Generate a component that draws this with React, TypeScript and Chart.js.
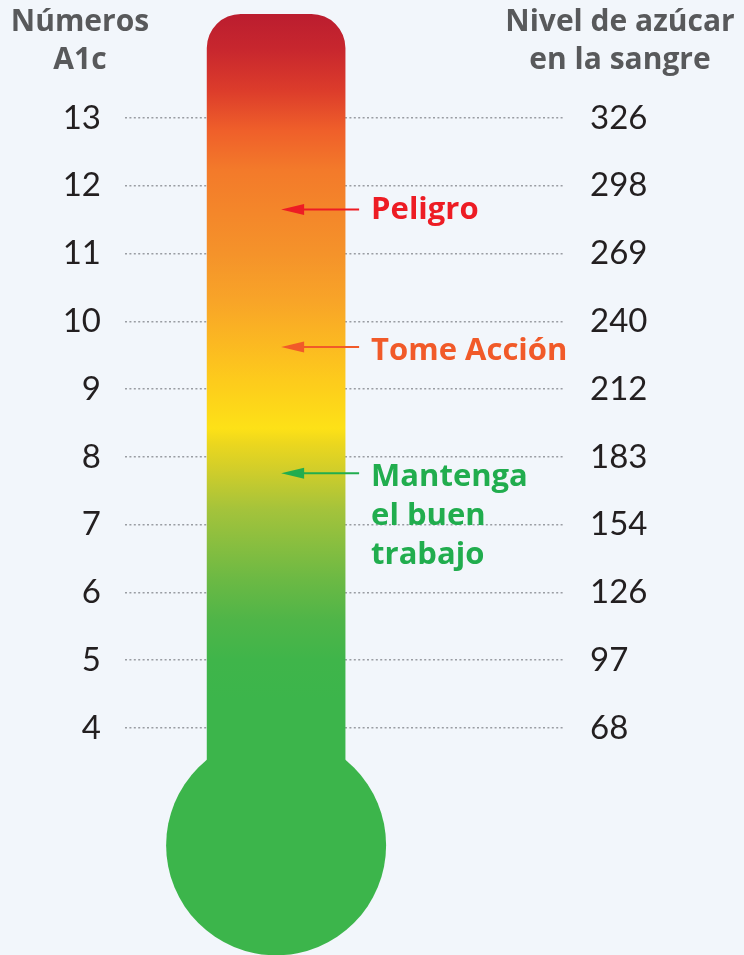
import React, { useEffect, useRef } from 'react';
import { Chart, registerables } from 'chart.js';

Chart.register(...registerables);

// ---- data ----
const a1cTicks = [4, 5, 6, 7, 8, 9, 10, 11, 12, 13];
const glucoseTicks = [68, 97, 126, 154, 183, 212, 240, 269, 298, 326];
const headerLeft = ['Números', 'A1c'];
const headerRight = ['Nivel de azúcar', 'en la sangre'];
const zoneLabels = [['Peligro'], ['Tome Acción'], ['Mantenga', 'el buen', 'trabajo']];
const zoneValues = [11.65, 9.62, 7.76];
const zoneColors = ['#ed1c24', '#f15a29', '#21ad4e'];
const tubeRange = [2.27, 14.53];
const bulbCenter = 2.27;
const yMin = 0.651;
const yMax = 14.741;

// gradient stops in A1c units (style)
const gradientStops: [number, string][] = [
  [14.53, '#bb1d2f'],
  [14.0, '#c8272e'],
  [13.41, '#dc3c2b'],
  [12.82, '#ef5f2a'],
  [12.23, '#f37a2a'],
  [10.98, '#f5932a'],
  [10.31, '#f8a428'],
  [9.72, '#fbb722'],
  [9.13, '#fdcb1c'],
  [8.42, '#fde117'],
  [8.2, '#ecd71e'],
  [7.78, '#cfcd2b'],
  [7.22, '#a4c33b'],
  [6.18, '#6bb944'],
  [5.59, '#4fb548'],
  [5.0, '#3fb54a'],
  [4.41, '#3cb54b'],
];

const BG = '#f2f6fb';
const GREEN = '#3cb54b';
const FONT = 'Lato, "Noto Sans", sans-serif';
const BOLD_FONT = '"Open Sans", "Noto Sans", sans-serif';
const TUBE_X = 0.345;

const bgPlugin = {
  id: 'bg',
  beforeDraw(chart: any) {
    const { ctx, width, height } = chart;
    ctx.save();
    ctx.fillStyle = BG;
    ctx.fillRect(0, 0, width, height);
    ctx.restore();
  },
};

const annotPlugin = {
  id: 'annot',
  afterDatasetsDraw(chart: any) {
    const { ctx } = chart;
    const y = chart.scales.y;
    const x = chart.scales.x;
    const cx = x.getPixelForValue(TUBE_X);
    ctx.save();
    // headers
    ctx.fillStyle = '#58595b';
    ctx.font = `bold 30px ${BOLD_FONT}`;
    ctx.textAlign = 'center';
    ctx.textBaseline = 'middle';
    headerLeft.forEach((t, i) => ctx.fillText(t, 80, 22 + i * 38));
    headerRight.forEach((t, i) => ctx.fillText(t, 620, 22 + i * 38));
    // zones
    zoneValues.forEach((v, i) => {
      const py = y.getPixelForValue(v);
      const tip = cx + 5;
      const tail = cx + 83;
      ctx.strokeStyle = zoneColors[i];
      ctx.fillStyle = zoneColors[i];
      ctx.lineWidth = 2;
      ctx.beginPath();
      ctx.moveTo(tail, py);
      ctx.lineTo(tip + 18, py);
      ctx.stroke();
      ctx.beginPath();
      ctx.moveTo(tip, py);
      ctx.lineTo(tip + 23, py - 5.5);
      ctx.lineTo(tip + 23, py + 5.5);
      ctx.closePath();
      ctx.fill();
      ctx.font = `bold 31px ${BOLD_FONT}`;
      ctx.textAlign = 'left';
      ctx.textBaseline = 'middle';
      const dy = i === 0 ? 1 : 4;
      zoneLabels[i].forEach((t, j) => ctx.fillText(t, cx + 95, py + dy + j * 39));
    });
    ctx.restore();
  },
};

export default function App() {
  const ref = useRef<HTMLCanvasElement | null>(null);
  useEffect(() => {
    if (!ref.current) return;
    const chart = new Chart(ref.current, {
      type: 'bar',
      data: {
        datasets: [
          {
            type: 'bar',
            data: [{ x: TUBE_X, y: tubeRange }] as any,
            barThickness: 138,
            borderSkipped: false,
            borderRadius: { topLeft: 34, topRight: 34, bottomLeft: 0, bottomRight: 0 },
            backgroundColor: (c: any) => {
              const ch = c.chart;
              if (!ch.chartArea) return GREEN;
              const ys = ch.scales.y;
              const p0 = ys.getPixelForValue(gradientStops[0][0]);
              const p1 = ys.getPixelForValue(gradientStops[gradientStops.length - 1][0]);
              const g = ch.ctx.createLinearGradient(0, p0, 0, p1);
              gradientStops.forEach(([v, col]) => {
                const t = (ys.getPixelForValue(v) - p0) / (p1 - p0);
                g.addColorStop(Math.min(1, Math.max(0, t)), col);
              });
              return g;
            },
          } as any,
          {
            type: 'line',
            data: [{ x: TUBE_X, y: bulbCenter }] as any,
            showLine: false,
            pointRadius: 110,
            pointHoverRadius: 110,
            pointBackgroundColor: GREEN,
            pointBorderWidth: 0,
            borderWidth: 0,
            clip: false,
          } as any,
        ],
      },
      options: {
        animation: false,
        responsive: false,
        events: [],
        layout: { padding: 0, autoPadding: false },
        plugins: { legend: { display: false }, tooltip: { enabled: false } },
        scales: {
          x: { type: 'linear', min: 0, max: 1, offset: false, display: false },
          y: {
            type: 'linear',
            position: 'left',
            min: yMin,
            max: yMax,
            afterBuildTicks: (s: any) => {
              s.ticks = a1cTicks.map((v) => ({ value: v }));
            },
            afterFit: (s: any) => {
              s.width = 125;
              s.paddingTop = 0;
              s.paddingBottom = 0;
            },
            ticks: {
              padding: 24,
              color: '#231f20',
              font: { family: FONT, size: 33, weight: '400' as any },
              callback: (v: any) => String(v),
            },
            grid: { drawTicks: false, color: '#9a9da3', lineWidth: 1.6 },
            border: { display: false, dash: [2, 2.4] },
          },
          y2: {
            type: 'linear',
            position: 'right',
            min: yMin,
            max: yMax,
            afterBuildTicks: (s: any) => {
              s.ticks = a1cTicks.map((v) => ({ value: v }));
            },
            afterFit: (s: any) => {
              s.width = 181;
              s.paddingTop = 0;
              s.paddingBottom = 0;
            },
            ticks: {
              padding: 27,
              color: '#231f20',
              font: { family: FONT, size: 33, weight: '400' as any },
              callback: (v: any) => {
                const i = a1cTicks.indexOf(Math.round(Number(v)));
                return i >= 0 ? String(glucoseTicks[i]) : '';
              },
            },
            grid: { display: false, drawTicks: false },
            border: { display: false },
          },
        },
      },
      plugins: [bgPlugin, annotPlugin],
    } as any);
    return () => chart.destroy();
  }, []);
  return (
    <div style={{ position: 'fixed', left: 0, top: 0, width: 744, height: 955, background: BG }}>
      <canvas ref={ref} width={744} height={955} style={{ display: 'block', width: 744, height: 955 }} />
    </div>
  );
}
